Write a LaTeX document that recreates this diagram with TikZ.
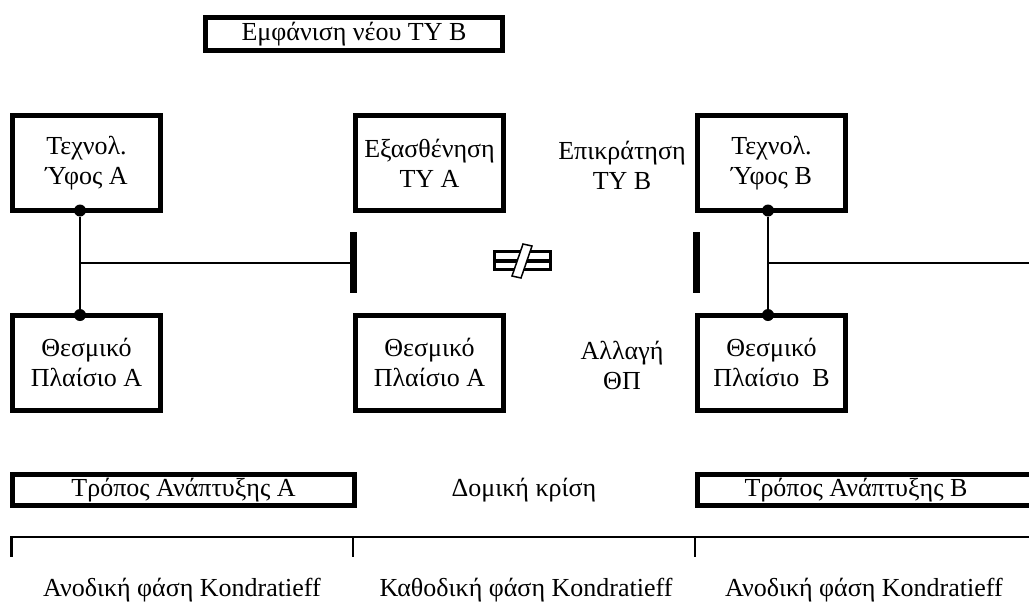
\documentclass[tikz,border=0pt]{standalone}
\usepackage{fontspec}
\setmainfont{Liberation Serif}
\begin{document}
\begin{tikzpicture}[x=1pt,y=-1pt,
  every node/.style={font=\fontsize{26}{30}\selectfont, align=center, inner sep=0pt, outer sep=0pt},
  frame/.style={draw, line width=5pt},
  cbox/.style={frame, minimum width=148pt, minimum height=95pt},
  conn/.style={line width=2.5pt},
  hconn/.style={line width=2pt},
  bar/.style={fill, minimum width=7pt, minimum height=61pt},
  dot/.style={circle, fill, minimum size=12pt, inner sep=0pt},
  tick/.style={line width=2.2pt}]
\useasboundingbox (0,0) rectangle (1029,606);
\clip (0,0) rectangle (1029,606);
% top
\node[frame, minimum width=297pt, minimum height=33pt] (nov) at (354,34) {Εμφάνιση νέου ΤΥ Β};
% row 1
\node[cbox] (tA) at (86.5,163) {Τεχνολ.\\Ύφος Α};
\node[cbox] (wA) at (429.5,163) {Εξασθένηση\\ΤΥ Α};
\node (domB) at (622,165) {Επικράτηση\\ΤΥ Β};
\node[cbox] (tB) at (771.5,163) {Τεχνολ.\\Ύφος Β};
% row 2
\node[cbox] (iA) at (86.5,362.5) {Θεσμικό\\Πλαίσιο Α};
\node[cbox] (iA2) at (429.5,362.5) {Θεσμικό\\Πλαίσιο Α};
\node (chg) at (622,365) {Αλλαγή\\ΘΠ};
\node[cbox] (iB) at (771.5,362.5) {Θεσμικό\\Πλαίσιο\ \ Β};
% connectors left
\node[dot] (dA1) at ([xshift=-6.5pt]tA.south) {};
\node[dot] (dA2) at ([xshift=-6.5pt]iA.north) {};
\draw[conn] (dA1) -- (dA2);
\node[bar] (barA) at (353.5,262.5) {};
\draw[hconn] (dA1 |- barA) -- (barA.west);
% connectors right
\node[dot] (dB1) at ([xshift=-3.5pt]tB.south) {};
\node[dot] (dB2) at ([xshift=-3.5pt]iB.north) {};
\draw[conn] (dB1) -- (dB2);
\node[bar] (barB) at (696.5,262.5) {};
\coordinate (rEnd) at (1040,262.5);
\draw[hconn] (dB1 |- barB) -- (rEnd);
% not-equal sign
\fill (493,250) rectangle (552,271);
\fill[white] (496,253) rectangle (549,259);
\fill[white] (496,263) rectangle (549,268);
\filldraw[fill=white, draw=black, line width=1.5pt] (523,244) -- (532,246) -- (521,278) -- (512,276) -- cycle;
% bottom modes
\node[frame, minimum width=342pt, minimum height=31pt] (mA) at (183.5,490) {Τρόπος Ανάπτυξης Α};
\node (crisis) at (524,490) {Δομική κρίση};
\node (mB) at (856,490) {Τρόπος Ανάπτυξης Β};
\draw[frame] (697.5,474.5) rectangle (1045,505.5);
% timeline
\coordinate (t0) at (10,537);
\coordinate (t1) at (353,537);
\coordinate (t2) at (695,537);
\coordinate (tE) at (1040,537);
\draw[hconn] (t0) -- (tE);
\draw[line width=3pt] ([xshift=1.5pt]t0) -- ++(0,20);
\draw[tick] (t1) -- ++(0,20);
\draw[tick] (t2) -- ++(0,20);
% phase labels
\node (k1) at (182,590) {Ανοδική φάση Kondratieff};
\node (k2) at (526,590) {Καθοδική φάση Kondratieff};
\node (k3) at (864,590) {Ανοδική φάση Kondratieff};
\end{tikzpicture}
\end{document}
